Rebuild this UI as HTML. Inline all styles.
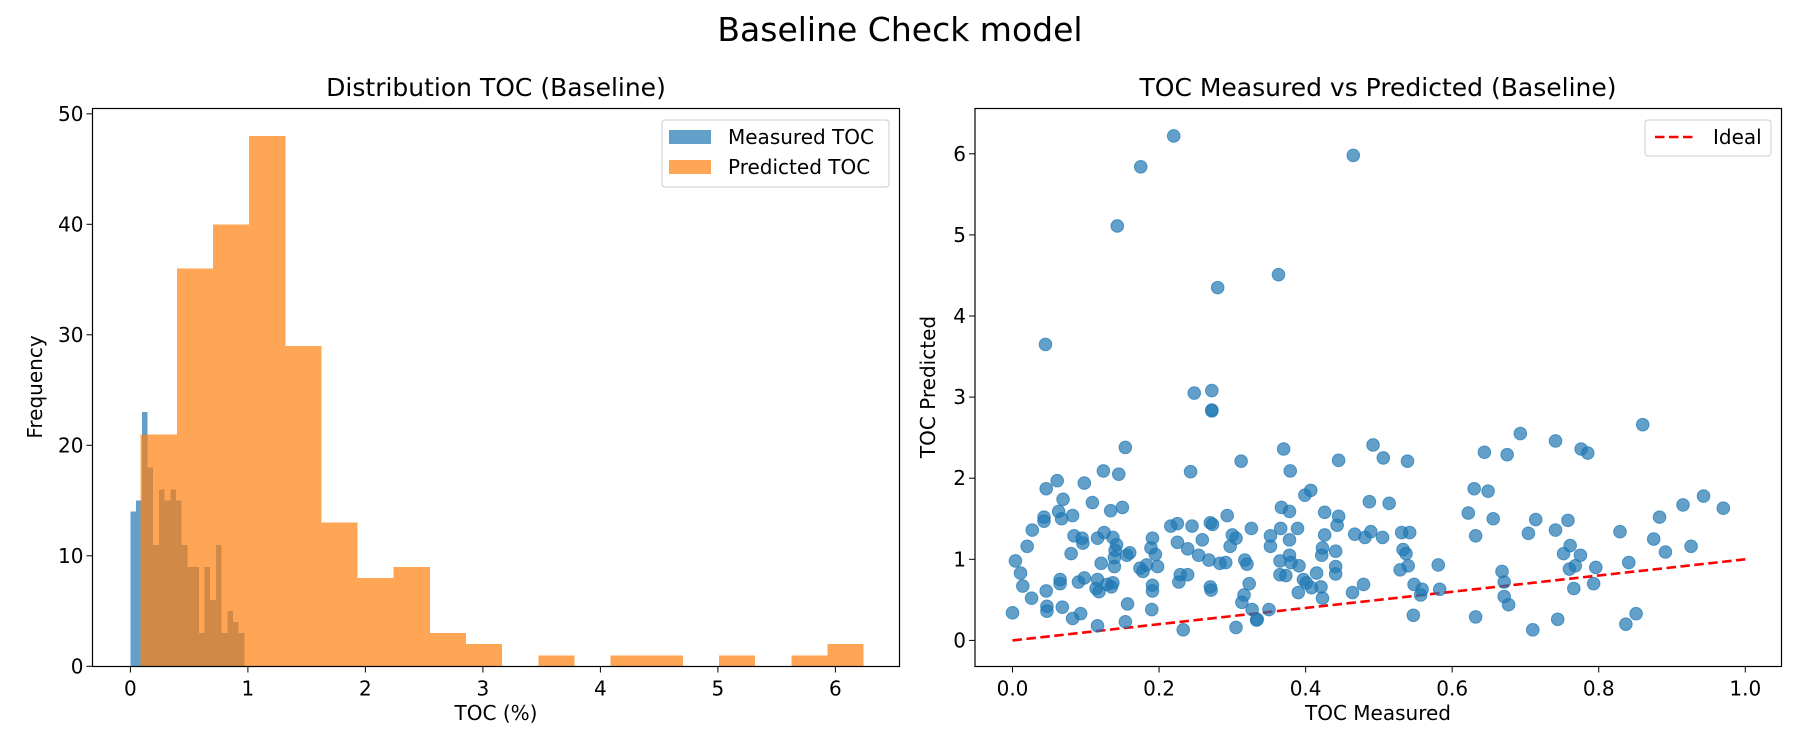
<!DOCTYPE html>
<html><head><meta charset="utf-8"><style>
body{margin:0;background:#fff;}
svg{display:block;font-family:"DejaVu Sans","Liberation Sans",sans-serif;}
</style></head><body>
<svg id="fig" width="1800" height="750" viewBox="0 0 1800 750">
<text x="900" y="41" font-size="33" text-anchor="middle">Baseline Check model</text>
<g id="left"></g>
<g id="right"></g>
</svg>
<script>
const measuredCounts=[14,15,23,18,11,16,15,16,15,11,9,9,3,9,6,11,3,5,4,3];
const measuredRange=[0,0.97];
const predictedCounts=[21,36,40,48,29,13,8,9,3,2,0,1,0,1,1,0,1,0,1,2];
const predictedRange=[0.088,6.24];
const histXTicks=[0,1,2,3,4,5,6];
const histYTicks=[0,10,20,30,40,50];
const scatterX=[0.154,0.312,0.124,0.145,0.243,0.061,0.046,0.098,0.069,0.109,0.134,0.150,0.063,0.043,0.043,0.067,0.082,0.027,0.293,0.216,0.225,0.245,0.270,0.273,0.326,0.020,0.084,0.095,0.096,0.116,0.125,0.137,0.142,0.140,0.156,0.160,0.191,0.189,0.195,0.225,0.239,0.259,0.254,0.268,0.283,0.291,0.300,0.297,0.305,0.317,0.320,0.004,0.011,0.014,0.026,0.000,0.080,0.121,0.139,0.139,0.174,0.178,0.183,0.198,0.065,0.065,0.090,0.098,0.116,0.114,0.118,0.129,0.137,0.135,0.191,0.191,0.229,0.239,0.227,0.270,0.271,0.323,0.316,0.313,0.046,0.047,0.047,0.068,0.082,0.093,0.116,0.157,0.154,0.190,0.233,0.305,0.327,0.333,
0.370,0.492,0.445,0.506,0.539,0.644,0.675,0.379,0.407,0.399,0.487,0.514,0.630,0.649,0.622,0.656,0.367,0.378,0.426,0.445,0.443,0.366,0.389,0.352,0.352,0.378,0.426,0.467,0.481,0.489,0.505,0.531,0.542,0.632,0.423,0.422,0.441,0.533,0.537,0.365,0.378,0.380,0.391,0.441,0.441,0.415,0.365,0.373,0.397,0.401,0.408,0.421,0.423,0.390,0.464,0.479,0.529,0.540,0.581,0.548,0.559,0.557,0.583,0.334,0.350,0.547,0.632,0.668,0.671,0.671,0.677,
0.693,0.741,0.776,0.785,0.860,0.714,0.704,0.741,0.758,0.829,0.883,0.915,0.943,0.970,0.875,0.891,0.926,0.761,0.752,0.775,0.768,0.760,0.796,0.841,0.766,0.793,0.744,0.710,0.837,0.851,
0.045,0.220,0.175,0.143,0.465,0.363,0.280,0.248,0.272,0.272,0.272];
const scatterY=[2.38,2.21,2.09,2.05,2.08,1.97,1.87,1.94,1.74,1.70,1.60,1.64,1.59,1.52,1.47,1.50,1.54,1.36,1.54,1.41,1.44,1.41,1.45,1.43,1.38,1.16,1.29,1.26,1.20,1.26,1.33,1.27,1.18,1.11,1.05,1.08,1.26,1.14,1.06,1.21,1.13,1.24,1.05,0.99,0.95,0.96,1.30,1.16,1.26,0.99,0.94,0.98,0.83,0.67,0.52,0.34,1.07,0.95,1.02,0.91,0.89,0.85,0.93,0.91,0.75,0.70,0.72,0.77,0.75,0.64,0.60,0.69,0.71,0.66,0.68,0.61,0.81,0.81,0.72,0.66,0.62,0.70,0.56,0.47,0.61,0.42,0.36,0.41,0.27,0.33,0.18,0.45,0.23,0.38,0.13,0.16,0.38,0.25,
2.36,2.41,2.22,2.25,2.21,2.32,2.29,2.09,1.85,1.79,1.71,1.69,1.87,1.84,1.57,1.50,1.64,1.59,1.58,1.53,1.42,1.38,1.38,1.29,1.16,1.24,1.30,1.31,1.27,1.34,1.27,1.33,1.33,1.29,1.14,1.05,1.10,1.12,1.07,0.98,1.05,0.96,0.92,0.91,0.82,0.83,0.81,0.80,0.75,0.71,0.65,0.66,0.52,0.59,0.59,0.69,0.87,0.92,0.93,0.69,0.63,0.56,0.63,0.26,0.38,0.31,0.29,0.85,0.72,0.54,0.44,
2.55,2.46,2.36,2.31,2.66,1.49,1.32,1.36,1.48,1.34,1.52,1.67,1.78,1.63,1.25,1.09,1.16,1.17,1.07,1.05,0.92,0.88,0.90,0.96,0.64,0.70,0.26,0.13,0.20,0.33,
3.65,6.22,5.84,5.11,5.98,4.51,4.35,3.05,3.08,2.84,2.83];
const scatterXTicks=[0,0.2,0.4,0.6,0.8,1.0];
const scatterYTicks=[0,1,2,3,4,5,6];
const idealLine=[0,1];

const NS="http://www.w3.org/2000/svg";
function mk(parent,tag,attrs,text){const e=document.createElementNS(NS,tag);for(const k in attrs)e.setAttribute(k,attrs[k]);if(text!==undefined)e.textContent=text;parent.appendChild(e);return e;}

// ---------- left histogram ----------
const L=document.getElementById('left');
const LB={x0:92.5,x1:899.5,y0:108.5,y1:666.5};
const lx=v=>130.4+v*117.5;
const ly=v=>666.3-v*11.05;
function drawHist(counts,range,color,name){
  const w=(range[1]-range[0])/counts.length;
  counts.forEach((c,i)=>{
    if(c<=0)return;
    const a=lx(range[0]+i*w),b=lx(range[0]+(i+1)*w);
    const r=mk(L,'rect',{x:a,y:ly(c),width:b-a,height:ly(0)-ly(c),fill:color,'fill-opacity':0.7,'shape-rendering':'crispEdges'});
    
    
  });
}
drawHist(measuredCounts,measuredRange,'#1f77b4','measured');
drawHist(predictedCounts,predictedRange,'#ff7f0e','predicted');
histXTicks.forEach(t=>{const x=lx(t);mk(L,'line',{x1:x,x2:x,y1:LB.y1,y2:LB.y1+6,stroke:'#000'});
 const tx=mk(L,'text',{x:x,y:LB.y1+29,'font-size':20,'text-anchor':'middle'},String(t));
 
 });
histYTicks.forEach(t=>{const y=ly(t);mk(L,'line',{x1:LB.x0-6,x2:LB.x0,y1:y,y2:y,stroke:'#000'});
 const tx=mk(L,'text',{x:LB.x0-9,y:y+7,'font-size':20,'text-anchor':'end'},String(t));
 
 });
mk(L,'rect',{x:LB.x0,y:LB.y0,width:LB.x1-LB.x0,height:LB.y1-LB.y0,fill:'none',stroke:'#000','stroke-width':1.2,});
mk(L,'text',{x:496,y:96,'font-size':25,'text-anchor':'middle',},'Distribution TOC (Baseline)');
mk(L,'text',{x:496,y:720,'font-size':20,'text-anchor':'middle',},'TOC (%)');
mk(L,'text',{x:42,y:387,'font-size':20,'text-anchor':'middle',transform:'rotate(-90 42 387)',},'Frequency');
const lg=mk(L,'g',{});
mk(lg,'rect',{x:662,y:120,width:227,height:67,rx:3,fill:'#fff','fill-opacity':0.8,stroke:'#ccc'});
mk(lg,'rect',{x:669,y:130,width:42,height:14,fill:'#1f77b4','fill-opacity':0.7,});
mk(lg,'text',{x:728,y:144,'font-size':20},'Measured TOC');
mk(lg,'rect',{x:669,y:160,width:42,height:14,fill:'#ff7f0e','fill-opacity':0.7,});
mk(lg,'text',{x:728,y:174,'font-size':20},'Predicted TOC');

// ---------- right scatter ----------
const R=document.getElementById('right');
const RB={x0:975,x1:1781.5,y0:108.5,y1:666.5};
const sx=v=>1012.5+v*732.8;
const sy=v=>640.4-v*81.1;
const il=mk(R,'line',{x1:sx(idealLine[0]),y1:sy(idealLine[0]),x2:sx(idealLine[1]),y2:sy(idealLine[1]),stroke:'#ff0000','stroke-width':2.6,'stroke-dasharray':'9.5,4.5'});


scatterX.forEach((x,i)=>{
  const c=mk(R,'circle',{cx:sx(x),cy:sy(scatterY[i]),r:6.3,fill:'#1f77b4','fill-opacity':0.7,stroke:'#1f77b4','stroke-opacity':0.7,'stroke-width':1});
  
  
});
scatterXTicks.forEach(t=>{const x=sx(t);mk(R,'line',{x1:x,x2:x,y1:RB.y1,y2:RB.y1+6,stroke:'#000'});
 const tx=mk(R,'text',{x:x,y:RB.y1+29,'font-size':20,'text-anchor':'middle'},t.toFixed(1));
 
 });
scatterYTicks.forEach(t=>{const y=sy(t);mk(R,'line',{x1:RB.x0-6,x2:RB.x0,y1:y,y2:y,stroke:'#000'});
 const tx=mk(R,'text',{x:RB.x0-9,y:y+7,'font-size':20,'text-anchor':'end'},String(t));
 
 });
mk(R,'rect',{x:RB.x0,y:RB.y0,width:RB.x1-RB.x0,height:RB.y1-RB.y0,fill:'none',stroke:'#000','stroke-width':1.2,});
mk(R,'text',{x:1378,y:96,'font-size':25,'text-anchor':'middle',},'TOC Measured vs Predicted (Baseline)');
mk(R,'text',{x:1378,y:720,'font-size':20,'text-anchor':'middle',},'TOC Measured');
mk(R,'text',{x:935,y:387,'font-size':20,'text-anchor':'middle',transform:'rotate(-90 935 387)',},'TOC Predicted');
const rg=mk(R,'g',{});
mk(rg,'rect',{x:1645,y:120,width:126,height:36,rx:3,fill:'#fff','fill-opacity':0.8,stroke:'#ccc'});
mk(rg,'line',{x1:1655,x2:1696,y1:137,y2:137,stroke:'#ff0000','stroke-width':2.6,'stroke-dasharray':'9.5,4.5',});
mk(rg,'text',{x:1713,y:144,'font-size':20},'Ideal');
</script>
</body></html>
